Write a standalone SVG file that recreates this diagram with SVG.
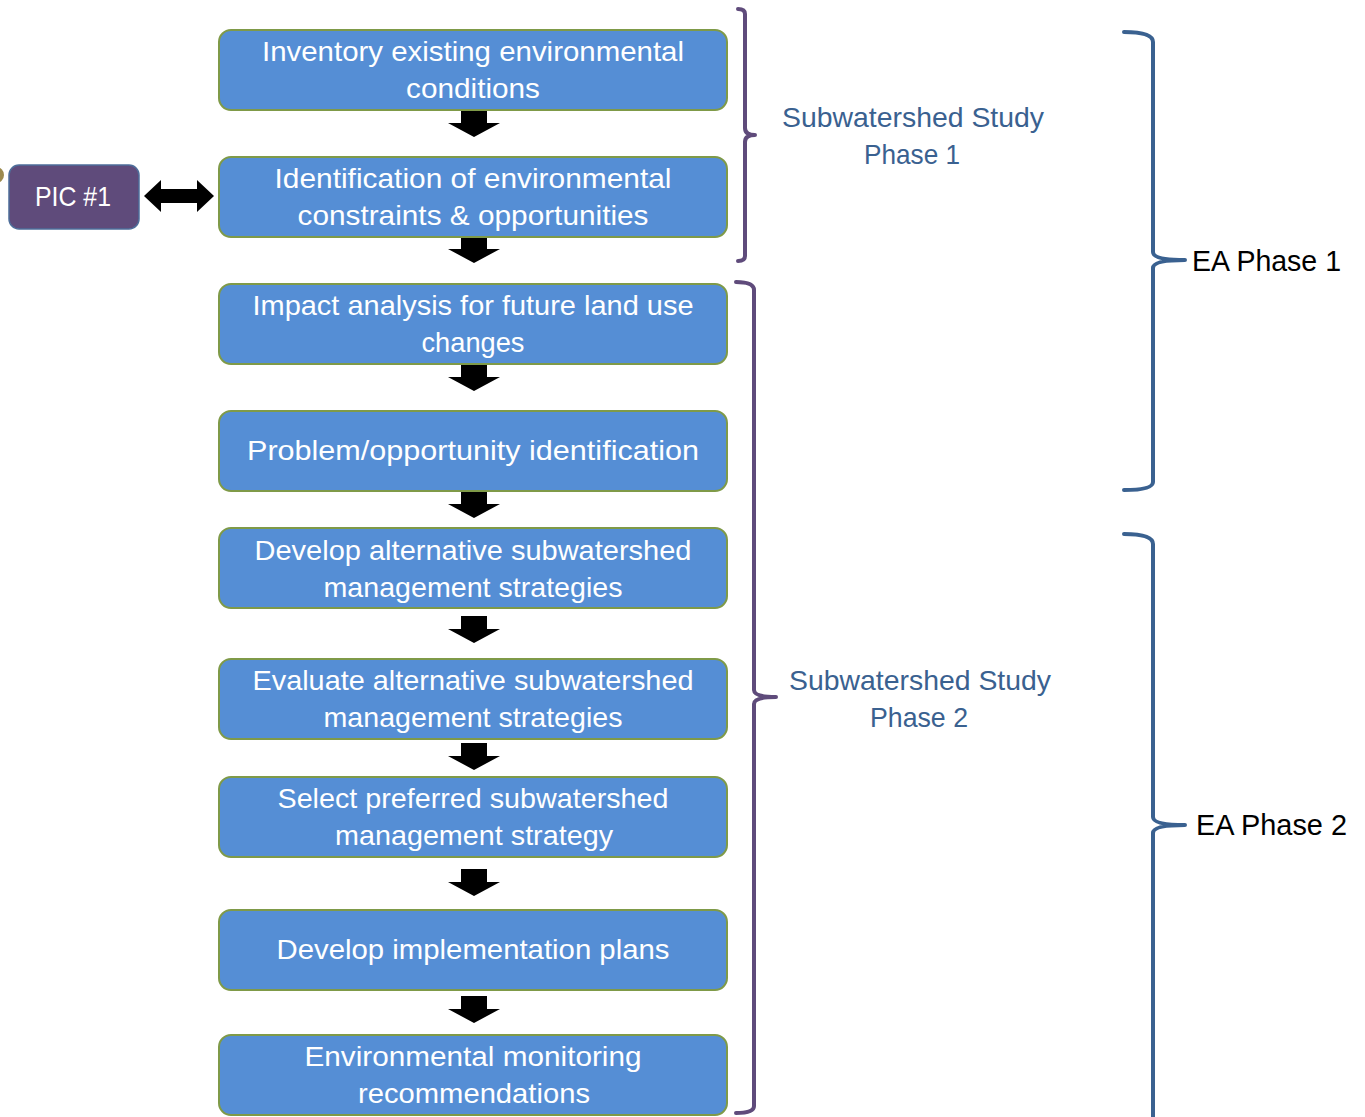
<svg xmlns="http://www.w3.org/2000/svg" width="1365" height="1117" viewBox="0 0 1365 1117">
<style>
.box{fill:#558ED5;stroke:#7F9A48;stroke-width:2}
.bt{font-family:"Liberation Sans",Arial,sans-serif;font-size:28px;fill:#fff;text-anchor:middle}
.arr{fill:#000}
.pb{fill:none;stroke:#5F4B7B;stroke-width:4;stroke-linecap:round;stroke-linejoin:round}
.bb{fill:none;stroke:#3A6190;stroke-width:4;stroke-linecap:round;stroke-linejoin:round}
.lbl{font-family:"Liberation Sans",Arial,sans-serif;font-size:28px;fill:#3A6190;text-anchor:middle}
.ea{font-family:"Liberation Sans",Arial,sans-serif;font-size:29px;fill:#000}
</style>
<defs>
<path id="down" d="M-13,0 H13 V13 H26 L0,27 L-26,13 H-13 Z"/>
</defs>
<g id="connectors">
<use href="#down" class="arr" x="474" y="110"/>
<use href="#down" class="arr" x="474" y="236"/>
<use href="#down" class="arr" x="474" y="364"/>
<use href="#down" class="arr" x="474" y="491"/>
<use href="#down" class="arr" x="474" y="616"/>
<use href="#down" class="arr" x="474" y="743"/>
<use href="#down" class="arr" x="474" y="869"/>
<use href="#down" class="arr" x="474" y="996"/>
<path class="arr" d="M144,196 L161,180 V189 H197 V180 L214,196 L197,212 V203 H161 V212 Z"/>
</g>
<g id="pic">
<circle cx="-4" cy="175" r="8" fill="#9C8A4E"/>
<rect x="9" y="165" width="130" height="64" rx="10" fill="#5F4B7B" stroke="#4E6E9A" stroke-width="1.5"/>
<text x="73" y="206" font-family="Liberation Sans,Arial,sans-serif" font-size="28" fill="#fff" text-anchor="middle" textLength="76" lengthAdjust="spacingAndGlyphs">PIC #1</text>
</g>
<g id="n1"><rect class="box" x="219" y="30" width="508" height="80" rx="12"/><text class="bt" x="473" y="61" textLength="422" lengthAdjust="spacingAndGlyphs">Inventory existing environmental</text><text class="bt" x="473" y="98" textLength="134" lengthAdjust="spacingAndGlyphs">conditions</text></g>
<g id="n2"><rect class="box" x="219" y="157" width="508" height="80" rx="12"/><text class="bt" x="473" y="188" textLength="397" lengthAdjust="spacingAndGlyphs">Identification of environmental</text><text class="bt" x="473" y="225" textLength="351" lengthAdjust="spacingAndGlyphs">constraints &amp; opportunities</text></g>
<g id="n3"><rect class="box" x="219" y="284" width="508" height="80" rx="12"/><text class="bt" x="473" y="315" textLength="441" lengthAdjust="spacingAndGlyphs">Impact analysis for future land use</text><text class="bt" x="473" y="352" textLength="103" lengthAdjust="spacingAndGlyphs">changes</text></g>
<g id="n4"><rect class="box" x="219" y="411" width="508" height="80" rx="12"/><text class="bt" x="473" y="460" textLength="452" lengthAdjust="spacingAndGlyphs">Problem/opportunity identification</text></g>
<g id="n5"><rect class="box" x="219" y="528" width="508" height="80" rx="12"/><text class="bt" x="473" y="560" textLength="437" lengthAdjust="spacingAndGlyphs">Develop alternative subwatershed</text><text class="bt" x="473" y="597" textLength="299" lengthAdjust="spacingAndGlyphs">management strategies</text></g>
<g id="n6"><rect class="box" x="219" y="659" width="508" height="80" rx="12"/><text class="bt" x="473" y="690" textLength="441" lengthAdjust="spacingAndGlyphs">Evaluate alternative subwatershed</text><text class="bt" x="473" y="727" textLength="299" lengthAdjust="spacingAndGlyphs">management strategies</text></g>
<g id="n7"><rect class="box" x="219" y="777" width="508" height="80" rx="12"/><text class="bt" x="473" y="808" textLength="391" lengthAdjust="spacingAndGlyphs">Select preferred subwatershed</text><text class="bt" x="474" y="845" textLength="278" lengthAdjust="spacingAndGlyphs">management strategy</text></g>
<g id="n8"><rect class="box" x="219" y="910" width="508" height="80" rx="12"/><text class="bt" x="473" y="959" textLength="393" lengthAdjust="spacingAndGlyphs">Develop implementation plans</text></g>
<g id="n9"><rect class="box" x="219" y="1035" width="508" height="80" rx="12"/><text class="bt" x="473" y="1066" textLength="337" lengthAdjust="spacingAndGlyphs">Environmental monitoring</text><text class="bt" x="474" y="1103" textLength="232" lengthAdjust="spacingAndGlyphs">recommendations</text></g>
<g id="brackets">
<path class="pb" d="M738,9 Q745,9 745,14 V128 Q745,135 755,135 Q745,135 745,142 V256 Q745,261 738,261"/>
<path class="pb" d="M736,282 Q754,282 754,290 V690 Q754,697 776,697 Q754,697 754,704 V1106 Q754,1113 736,1113"/>
<path class="bb" d="M1124,32 Q1153,32 1153,42 V252 Q1153,260 1185,260 Q1153,260 1153,268 V482 Q1153,490 1124,490"/>
<path class="bb" d="M1124,534 Q1153,534 1153,544 V817 Q1153,825 1185,825 Q1153,825 1153,833 V1130"/>
</g>
<g id="labels">
<text class="lbl" x="913" y="127" textLength="262" lengthAdjust="spacingAndGlyphs">Subwatershed Study</text>
<text class="lbl" x="912" y="164" textLength="96" lengthAdjust="spacingAndGlyphs">Phase 1</text>
<text class="lbl" x="920" y="690" textLength="262" lengthAdjust="spacingAndGlyphs">Subwatershed Study</text>
<text class="lbl" x="919" y="727" textLength="98" lengthAdjust="spacingAndGlyphs">Phase 2</text>
<text class="ea" x="1192" y="271" textLength="149" lengthAdjust="spacingAndGlyphs">EA Phase 1</text>
<text class="ea" x="1196" y="835" textLength="151" lengthAdjust="spacingAndGlyphs">EA Phase 2</text>
</g>
</svg>
